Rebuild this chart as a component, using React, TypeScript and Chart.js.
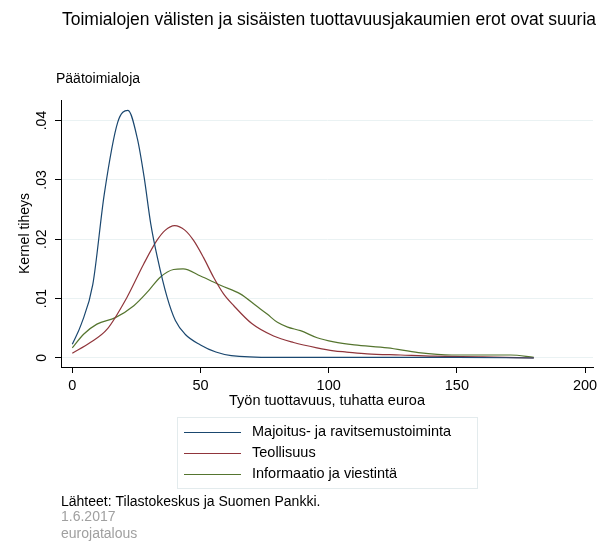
import React, { useEffect, useRef } from "react";
import { Chart, registerables } from "chart.js";

Chart.register(...registerables);

const TITLE = "Toimialojen välisten ja sisäisten tuottavuusjakaumien erot ovat suuria";
const SUBTITLE = "Päätoimialoja";
const X_TITLE = "Työn tuottavuus, tuhatta euroa";
const Y_TITLE = "Kernel tiheys";
const SOURCE = "Lähteet: Tilastokeskus ja Suomen Pankki.";
const DATE = "1.6.2017";
const BRAND = "eurojatalous";

const X_TICKS = [0, 50, 100, 150, 200];
const Y_TICKS = [0, 0.01, 0.02, 0.03, 0.04];
const Y_TICK_LABELS = ["0", ".01", ".02", ".03", ".04"];

const SERIES_NAMES = [
  "Majoitus- ja ravitsemustoiminta",
  "Teollisuus",
  "Informaatio ja viestintä",
];
const SERIES_COLORS = ["#1a476f", "#90353b", "#55752f"];

const majoitusX = [0, 3.5, 8, 12.5, 17.7, 21.7, 25.4, 28, 30.6, 33.2, 37, 40.2, 44, 50, 56, 62, 79, 100, 150, 180];
const majoitusY = [0.0023, 0.0057, 0.0124, 0.0277, 0.0397, 0.0417, 0.0369, 0.0305, 0.0226, 0.0169, 0.0102, 0.0063, 0.004, 0.0022, 0.001, 0.0004, 0.0001, 0.0001, 0.0001, 0];

const teollisuusX = [0, 7, 13.5, 21.3, 27.8, 33, 36.2, 39.9, 44, 47.3, 51.2, 55.1, 59, 63, 70, 78.5, 86.3, 95.4, 102, 107, 115, 128, 141, 160, 180];
const teollisuusY = [0.0008, 0.0026, 0.0048, 0.0102, 0.0158, 0.0198, 0.0215, 0.0223, 0.0215, 0.0198, 0.0169, 0.0136, 0.0108, 0.0088, 0.0058, 0.0037, 0.0026, 0.0017, 0.0012, 0.001, 0.0007, 0.0005, 0.0003, 0.0002, 0];

const informaatioX = [0, 4.4, 9.6, 16.8, 24, 29.7, 34.3, 39.5, 43.2, 50, 58, 65.5, 72, 76, 80, 84, 89, 95.5, 102, 110, 123, 135, 148, 160, 171, 180];
const informaatioY = [0.0017, 0.004, 0.0057, 0.0068, 0.0088, 0.0113, 0.0136, 0.0149, 0.015, 0.0138, 0.0122, 0.0108, 0.0087, 0.0074, 0.006, 0.0052, 0.0046, 0.0034, 0.0027, 0.0022, 0.0017, 0.0009, 0.0005, 0.0005, 0.0005, 0.0001];

const SERIES_X = [majoitusX, teollisuusX, informaatioX];
const SERIES_Y = [majoitusY, teollisuusY, informaatioY];

const FONT = '"Liberation Sans", Arial, sans-serif';

const annotPlugin = {
  id: "annot",
  afterDraw(chart: any) {
    const ctx = chart.ctx as CanvasRenderingContext2D;
    const ys = chart.scales.y;
    const area = chart.chartArea;
    ctx.save();
    ctx.fillStyle = "#000";
    ctx.textBaseline = "middle";

    // main title
    ctx.font = `17.5px ${FONT}`;
    ctx.textAlign = "center";
    ctx.fillText(TITLE, 329, 20);

    // subtitle
    ctx.font = `14px ${FONT}`;
    ctx.textAlign = "left";
    ctx.fillText(SUBTITLE, 56, 79);

    // y tick labels (rotated)
    Y_TICKS.forEach((v, i) => {
      const py = ys.getPixelForValue(v);
      ctx.save();
      ctx.translate(42, py);
      ctx.rotate(-Math.PI / 2);
      ctx.textAlign = "center";
      ctx.fillText(Y_TICK_LABELS[i], 0, 0);
      ctx.restore();
    });

    // y title
    ctx.save();
    ctx.translate(25, (area.top + area.bottom) / 2);
    ctx.rotate(-Math.PI / 2);
    ctx.textAlign = "center";
    ctx.fillText(Y_TITLE, 0, 0);
    ctx.restore();

    // x title
    ctx.font = `14.5px ${FONT}`;
    ctx.textAlign = "center";
    ctx.fillText(X_TITLE, (area.left + area.right) / 2, 401);

    // legend
    ctx.strokeStyle = "#e3ebed";
    ctx.lineWidth = 1;
    ctx.strokeRect(177.5, 417.5, 300, 71);
    chart.data.datasets.forEach((ds: any, i: number) => {
      const ry = 432 + i * 21;
      ctx.strokeStyle = ds.borderColor;
      ctx.beginPath();
      ctx.moveTo(184, ry + 0.5);
      ctx.lineTo(241, ry + 0.5);
      ctx.stroke();
      ctx.fillStyle = "#000";
      ctx.textAlign = "left";
      ctx.fillText(ds.label, 252, ry);
    });

    // footers
    ctx.font = `14px ${FONT}`;
    ctx.fillStyle = "#000";
    ctx.textAlign = "left";
    ctx.fillText(SOURCE, 61, 502);
    ctx.fillStyle = "#a0a0a0";
    ctx.fillText(DATE, 61, 517);
    ctx.fillText(BRAND, 61, 534);
    ctx.restore();
  },
};

export default function App() {
  const ref = useRef<HTMLCanvasElement | null>(null);
  useEffect(() => {
    if (!ref.current) return;
    const datasets = SERIES_NAMES.map((name, i) => ({
      label: name,
      data: SERIES_X[i].map((x, j) => ({ x, y: SERIES_Y[i][j] })),
      borderColor: SERIES_COLORS[i],
      backgroundColor: SERIES_COLORS[i],
      borderWidth: 1.2,
      pointRadius: 0,
      cubicInterpolationMode: "monotone" as const,
      fill: false,
    }));
    const chart = new Chart(ref.current, {
      type: "line",
      data: { datasets },
      plugins: [annotPlugin],
      options: {
        responsive: false,
        animation: false,
        layout: { padding: { left: 0, right: 17, top: 100, bottom: 148 } },
        plugins: {
          legend: { display: false },
          title: { display: false },
          tooltip: { enabled: false },
        },
        scales: {
          x: {
            type: "linear",
            min: -4.41,
            max: 203.1,
            afterBuildTicks: (s: any) => {
              s.ticks = X_TICKS.map((v) => ({ value: v }));
            },
            afterFit: (s: any) => {
              s.height = 40;
            },
            grid: {
              drawOnChartArea: false,
              tickColor: "#000",
              tickLength: 6,
            },
            border: { color: "#000", width: 1 },
            ticks: {
              color: "#000",
              font: { family: FONT, size: 14.5 },
              padding: 4,
              maxRotation: 0,
              autoSkip: false,
            },
          },
          y: {
            type: "linear",
            min: -0.00152,
            max: 0.04346,
            afterBuildTicks: (s: any) => {
              s.ticks = Y_TICKS.map((v) => ({ value: v }));
            },
            afterFit: (s: any) => {
              s.width = 61;
            },
            grid: {
              color: "#eaf2f3",
              tickColor: "#000",
              tickLength: 6,
            },
            border: { color: "#000", width: 1 },
            ticks: { display: false },
          },
        },
      },
    });
    return () => chart.destroy();
  }, []);
  return (
    <div style={{ position: "absolute", left: 0, top: 0, width: 610, height: 555, background: "#fff" }}>
      <canvas ref={ref} width={610} height={555} />
    </div>
  );
}
